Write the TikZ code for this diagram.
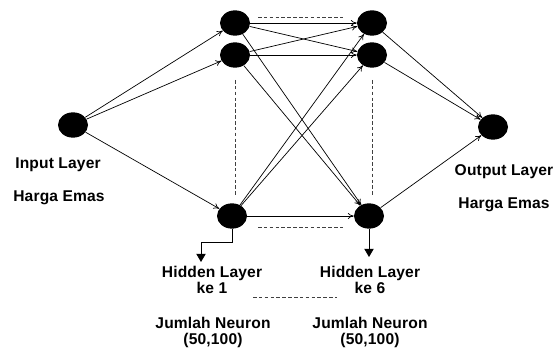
\documentclass[tikz,border=0pt]{standalone}
\usepackage{fontspec}
\setmainfont{Liberation Sans}[LetterSpace=1, BoldFeatures={LetterSpace=1}]
\usetikzlibrary{shapes.geometric,arrows.meta}

\begin{document}
\begin{tikzpicture}[
	neuron/.style={ellipse, fill=black, minimum width=0.9cm, minimum height=0.76cm, inner sep=0pt},
	link/.style={line width=0.6pt, -{To[length=5pt,width=5pt]}},
	down/.style={line width=0.7pt, -{Triangle[length=7pt,width=8pt]}},
	dots/.style={line width=0.6pt, black!75, dash pattern=on 3pt off 2pt},
	lbl/.style={font=\fontsize{13.3}{13.8}\selectfont\bfseries, align=center}
	]
	\useasboundingbox (0, 0) rectangle (16.77, 10.62);
	% neurons
	\node[neuron] (in) at (2.19, 6.87) {};
	\node[neuron] (h1a) at (7.05, 9.93) {};
	\node[neuron] (h1b) at (7.05, 8.97) {};
	\node[neuron] (h1c) at (6.96, 4.14) {};
	\node[neuron] (h6a) at (11.16, 9.93) {};
	\node[neuron] (h6b) at (11.16, 8.97) {};
	\node[neuron] (h6c) at (11.07, 4.14) {};
	\node[neuron] (out) at (14.79, 6.81) {};
	% connections
	\foreach \a in {h1a, h1b, h1c} {
		\draw[link] (in) -- (\a);
		\foreach \b in {h6a, h6b, h6c}
			\draw[link] (\a) -- (\b);
	}
	\foreach \b in {h6a, h6b, h6c}
		\draw[link] (\b) -- (out);
	% dashed
	\draw[dots] (7.74, 10.11) -- (10.29, 10.11);
	\draw[dots] (7.74, 3.81) -- (10.29, 3.81);
	\draw[dots] (7.59, 1.71) -- (10.11, 1.71);
	\draw[dots] (7.05, 8.22) -- (7.05, 4.77);
	\draw[dots] (11.16, 8.22) -- (11.16, 4.77);
	% labels
	\node[lbl] (inlbl) at (1.74, 5.67) {Input Layer};
	\node[lbl] (inval) at (1.77, 4.68) {Harga Emas};
	\node[lbl] (outlbl) at (15.12, 5.46) {Output Layer};
	\node[lbl] (outval) at (15.12, 4.47) {Harga Emas};
	\node[lbl] (h1lbl) at (6.36, 2.22) {Hidden Layer\\ke 1};
	\node[lbl] (h6lbl) at (11.10, 2.22) {Hidden Layer\\ke 6};
	\node[lbl] (h1n) at (6.39, 0.645) {Jumlah Neuron\\(50,100)};
	\node[lbl] (h6n) at (11.10, 0.645) {Jumlah Neuron\\(50,100)};
	% down arrows
	\coordinate (h1end) at (6.03, 2.76);
	\coordinate (h6end) at (11.07, 2.91);
	\draw[down] (h1c.south) |- (6.03, 3.36) -- (h1end);
	\draw[down] (h6c.south) -- (h6end);
\end{tikzpicture}
\end{document}
